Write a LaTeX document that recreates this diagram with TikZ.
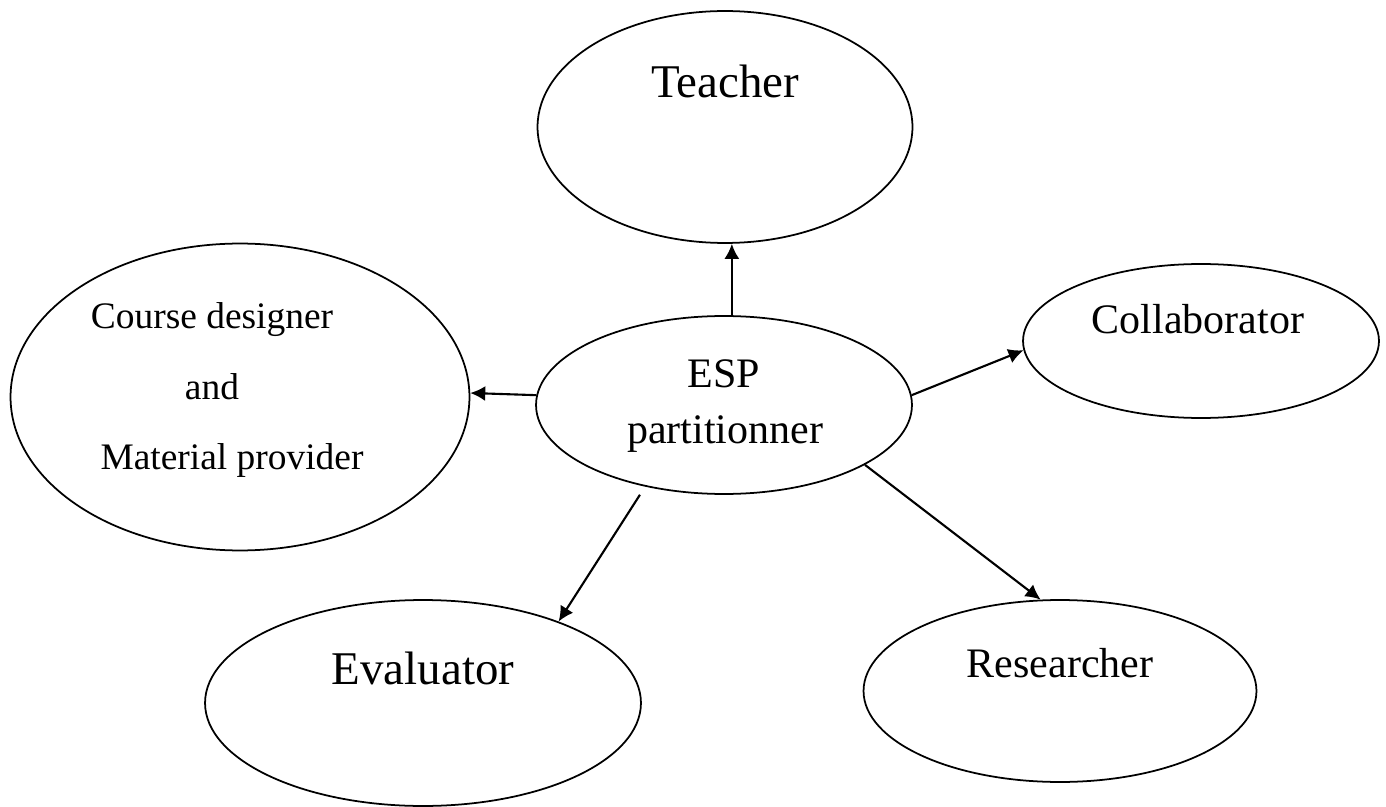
\documentclass[tikz,border=0pt]{standalone}
\usepackage{fontspec}
\setmainfont{Liberation Serif}
\usepackage{tikz}
\usetikzlibrary{shapes,arrows.meta,positioning}
\tikzstyle{role}=[ellipse, draw, line width=1pt, inner sep=0pt]
\tikzstyle{rolename}=[anchor=base, inner sep=0pt, font=\fontsize{23.9}{28}\selectfont]
\tikzstyle{bigname}=[rolename, font=\fontsize{26.7}{32}\selectfont]
\tikzstyle{smallname}=[rolename, font=\fontsize{21.3}{26}\selectfont]
\tikzstyle{link}=[-{Latex[length=3mm,width=3mm]}, line width=1.2pt]

\begin{document}
\begin{tikzpicture}[x=0.02cm, y=-0.02cm]
\useasboundingbox (0,0) rectangle (1386,807);

\node[role, minimum width=7.5cm, minimum height=4.64cm] (teacher) at (725,127) {};
\node[role, minimum width=7.52cm, minimum height=3.56cm] (esp) at (724,405) {};
\node[role, minimum width=9.18cm, minimum height=6.14cm] (course) at (240,397) {};
\node[role, minimum width=7.12cm, minimum height=3.08cm] (collab) at (1201,341) {};
\node[role, minimum width=8.72cm, minimum height=4.12cm] (eval) at (423,703) {};
\node[role, minimum width=7.86cm, minimum height=3.64cm] (research) at (1060,691) {};

\node[bigname] (teacher-t) at (725,98) {Teacher};
\node[rolename] (esp-t1) at (724,388) {ESP};
\node[rolename] (esp-t2) at (725,443) {partitionner};
\node[smallname] (course-t1) at (212,329) {Course designer};
\node[smallname] (course-t2) at (212,399) {and};
\node[smallname] (course-t3) at (232,469) {Material provider};
\node[rolename] (collab-t) at (1198,334) {Collaborator};
\node[bigname] (eval-t) at (423,684) {Evaluator};
\node[rolename] (research-t) at (1060,677) {Researcher};

\draw[link] (esp.85) -- (esp.85 |- teacher.south);
\draw[link] (esp.177) -- (course.1);
\draw[link] (esp.3) -- (collab.183);
\draw[link, shorten <=5.5pt] (esp.226) -- (eval.31);
\draw[link] (esp.337) -- (research.102);

\end{tikzpicture}
\end{document}
